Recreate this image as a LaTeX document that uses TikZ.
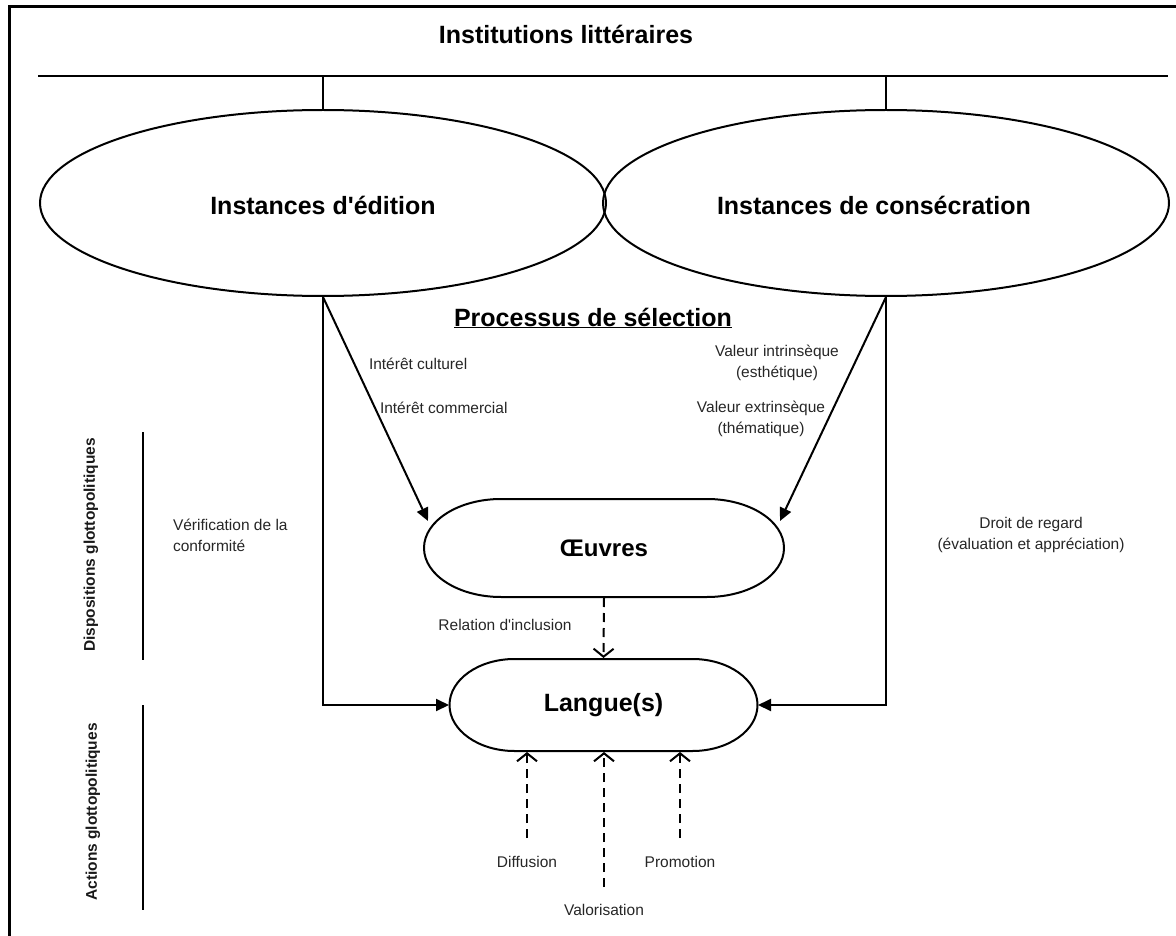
\documentclass[tikz,border=0pt]{standalone}
\usepackage{fontspec}
\setmainfont{Liberation Sans}[Ligatures=TeXOff]
\usetikzlibrary{arrows.meta,shapes.geometric,calc}
\newcommand\mystadium[5]{% cx cy flat-half rx ry
  (#1-#3,#2-#5) -- (#1+#3,#2-#5) arc[start angle=-90,end angle=90,x radius=#4,y radius=#5]
  -- (#1-#3,#2+#5) arc[start angle=90,end angle=270,x radius=#4,y radius=#5] -- cycle}
\begin{document}
\begin{tikzpicture}[x=1pt,y=-1pt,line width=2pt,
  lbl/.style={font=\fontsize{15.5}{21}\selectfont,inner sep=0pt,align=center,text=black!85},
  big/.style={font=\fontsize{25}{28}\selectfont\bfseries,inner sep=0pt},
  side/.style={font=\fontsize{15.5}{18}\selectfont\bfseries,inner sep=0pt,rotate=90,text=black!90},
  solidarrow/.style={-{Triangle[length=13pt,width=12pt]}},
  openarrow/.style={dash pattern=on 9pt off 6pt,-{Straight Barb[length=8pt,width=20pt,line width=2pt]}},
  ell/.style={draw,ellipse,inner sep=0pt,minimum width=566pt,minimum height=186pt}]
\useasboundingbox (0,0) rectangle (1176,936);
% frame
\draw[line width=3pt] (9,936) -- (9,7) -- (1176,7);
% title and bar
\node[big] (title) at (566,34) {Institutions littéraires};
\coordinate (hl) at (38,76);
\coordinate (hr) at (1168,76);
\draw (hl) -- (hr);
% ellipses
\node[ell] (ed) at (323,203) {};
\node[ell] (co) at (886,203) {};
\node[big] (edt) at (323,205) {Instances d'édition};
\node[big] (cot) at (874,205) {Instances de consécration};
\draw (ed.north |- hl) -- (ed.north);
\draw (co.north |- hl) -- (co.north);
% central shapes
\draw \mystadium{604}{548}{103}{77}{49};
\node[inner sep=0pt,minimum width=360pt,minimum height=98pt,font=\fontsize{24}{26}\selectfont\bfseries] (oe) at (604,548) {Œuvres};
\draw \mystadium{603.5}{705}{89}{65}{46};
\node[inner sep=0pt,minimum width=307pt,minimum height=92pt,font=\fontsize{25}{28}\selectfont\bfseries] (la) at (603.5,705) {Langue(s)};
% selection process
\node[big] (proc) at (593,318) {\underline{Processus de sélection}};
\node[lbl,anchor=west] (ic) at (368,364) {Intérêt culturel};
\node[lbl,anchor=west] (icm) at (379,408) {Intérêt commercial};
\node[lbl] (vi) at (777,363) {Valeur intrinsèque\\(esthétique)};
\node[lbl] (ve) at (761,419) {Valeur extrinsèque\\(thématique)};
\node[lbl,align=left,anchor=west] (vc) at (172,535) {Vérification de la\\conformité};
\node[lbl] (dr) at (1031,535) {Droit de regard\\(évaluation et appréciation)};
\node[lbl] (ri) at (505,625) {Relation d'inclusion};
\node[lbl] (di) at (527,862) {Diffusion};
\node[lbl] (pr) at (680,862) {Promotion};
\node[lbl] (va) at (604,910) {Valorisation};
% connectors
\coordinate (oeL) at (428,521);
\coordinate (oeR) at (780,521);
\draw[solidarrow] (ed.south) -- (oeL);
\draw[solidarrow] (co.south) -- (oeR);
\draw[solidarrow] (ed.south) -- (ed.south |- la.west) -- (la.west);
\draw[solidarrow] (co.south) -- (co.south |- la.east) -- (la.east);
\draw[openarrow] (oe.south) -- (la.north);
\coordinate (d1) at (527,838);
\coordinate (d2) at (604,887);
\coordinate (d3) at (680,838);
\draw[openarrow] (d1) -- (d1 |- la.south);
\draw[openarrow] (d2) -- (d2 |- la.south);
\draw[openarrow] (d3) -- (d3 |- la.south);
% side labels
\node[side] (dg) at (91,545) {Dispositions glottopolitiques};
\node[side] (ag) at (93,812) {Actions glottopolitiques};
\coordinate (s1) at (143,432);
\coordinate (s2) at (143,660);
\coordinate (s3) at (143,705);
\coordinate (s4) at (143,910);
\draw (s1) -- (s2);
\draw (s3) -- (s4);
\end{tikzpicture}
\end{document}
